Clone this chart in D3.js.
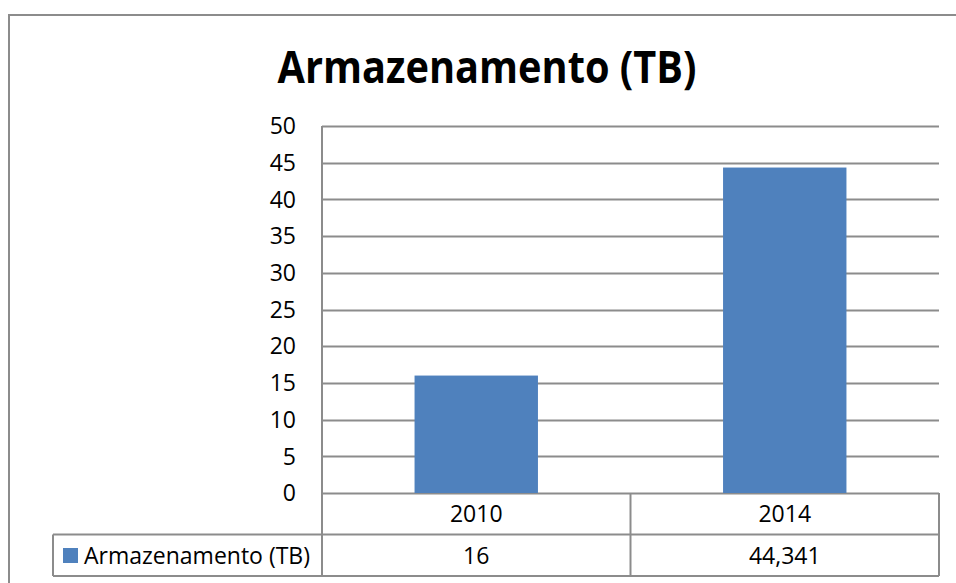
<!DOCTYPE html>
<html>
<head>
<meta charset="utf-8">
<script src="https://cdn.jsdelivr.net/npm/d3@7"></script>
<style>
  body { margin: 0; background: #fff; }
  text { font-family: "Open Sans", sans-serif; fill: #000; }
</style>
</head>
<body>
<div id="chart"></div>
<script>
var categories = ["2010", "2014"];
var values = [16, 44.341];
var valueLabels = ["16", "44,341"];
var yTicks = [0, 5, 10, 15, 20, 25, 30, 35, 40, 45, 50];
var seriesName = "Armazenamento (TB)";
var title = "Armazenamento (TB)";

var width = 956,
  height = 583,
  plot = { left: 322, right: 939, top: 126, bottom: 493 },
  rowH = 41.5,
  legendLeft = 53,
  fontSize = "23px",
  lineColour = "#8c8c8c",
  barColour = "#4f81bd";

var svg = d3.select("#chart")
  .append("svg")
  .attr("width", width)
  .attr("height", height);

// outer chart border (only top and left are in frame)
svg.append("path")
  .attr("d", "M9,583 V15 H956")
  .attr("fill", "none")
  .attr("stroke", lineColour)
  .attr("stroke-width", 2);

var x = d3.scaleBand()
  .domain(categories)
  .range([plot.left, plot.right])
  .paddingInner(0)
  .paddingOuter(0);

var y = d3.scaleLinear()
  .domain([0, 50])
  .range([plot.bottom, plot.top]);

// gridlines
svg.append("g")
  .selectAll("line")
  .data(yTicks)
  .enter()
  .append("line")
  .attr("x1", plot.left)
  .attr("x2", plot.right)
  .attr("y1", function(d) { return Math.round(y(d)) + 0.5; })
  .attr("y2", function(d) { return Math.round(y(d)) + 0.5; })
  .attr("stroke", lineColour)
  .attr("stroke-width", 2);

// y tick labels
svg.append("g")
  .selectAll("text")
  .data(yTicks)
  .enter()
  .append("text")
  .attr("x", 296)
  .attr("y", function(d) { return y(d); })
  .attr("dy", "0.36em")
  .attr("text-anchor", "end")
  .attr("font-size", fontSize)
  .text(function(d) { return d; });

// bars
var barW = x.bandwidth() * 0.4;
svg.append("g")
  .selectAll("rect")
  .data(values)
  .enter()
  .append("rect")
  .attr("x", function(d, i) { return x(categories[i]) + (x.bandwidth() - barW) / 2; })
  .attr("y", function(d) { return y(d); })
  .attr("width", barW)
  .attr("height", function(d) { return y(0) - y(d); })
  .attr("fill", barColour);

// data table lines
var row1 = plot.bottom + rowH, row2 = plot.bottom + 2 * rowH;
var table = svg.append("g")
  .attr("stroke", lineColour)
  .attr("stroke-width", 2)
  .attr("fill", "none");
table.append("line")
  .attr("x1", legendLeft).attr("x2", plot.right)
  .attr("y1", row1).attr("y2", row1);
table.append("line")
  .attr("x1", legendLeft).attr("x2", plot.right)
  .attr("y1", row2).attr("y2", row2);
table.append("line")
  .attr("x1", legendLeft).attr("x2", legendLeft)
  .attr("y1", row1).attr("y2", row2);
table.append("line")
  .attr("x1", plot.left).attr("x2", plot.left)
  .attr("y1", plot.top).attr("y2", row2);
table.selectAll("line.col")
  .data(categories)
  .enter()
  .append("line")
  .attr("class", "col")
  .attr("x1", function(d) { return x(d) + x.bandwidth(); })
  .attr("x2", function(d) { return x(d) + x.bandwidth(); })
  .attr("y1", plot.bottom)
  .attr("y2", row2);

// category labels
svg.append("g")
  .selectAll("text")
  .data(categories)
  .enter()
  .append("text")
  .attr("x", function(d) { return x(d) + x.bandwidth() / 2; })
  .attr("y", plot.bottom + rowH / 2)
  .attr("dy", "0.36em")
  .attr("text-anchor", "middle")
  .attr("font-size", fontSize)
  .text(function(d) { return d; });

// value labels
svg.append("g")
  .selectAll("text")
  .data(valueLabels)
  .enter()
  .append("text")
  .attr("x", function(d, i) { return x(categories[i]) + x.bandwidth() / 2; })
  .attr("y", row1 + rowH / 2)
  .attr("dy", "0.36em")
  .attr("text-anchor", "middle")
  .attr("font-size", fontSize)
  .text(function(d) { return d; });

// legend key
svg.append("rect")
  .attr("x", 63)
  .attr("y", 548)
  .attr("width", 15)
  .attr("height", 15)
  .attr("fill", barColour);

var legendText = svg.append("text")
  .attr("x", 84)
  .attr("y", row1 + rowH / 2)
  .attr("dy", "0.36em")
  .attr("font-size", fontSize)
  .text(seriesName);
var lw = legendText.node().getComputedTextLength();
if (lw > 229) legendText.attr("textLength", 229).attr("lengthAdjust", "spacingAndGlyphs");

// title
var titleText = svg.append("text")
  .attr("x", 487)
  .attr("y", 83)
  .attr("text-anchor", "middle")
  .attr("font-size", "45px")
  .attr("font-weight", "bold")
  .text(title);
var tw = titleText.node().getComputedTextLength();
if (tw > 419) titleText.attr("textLength", 419).attr("lengthAdjust", "spacingAndGlyphs");
</script>
</body>
</html>
